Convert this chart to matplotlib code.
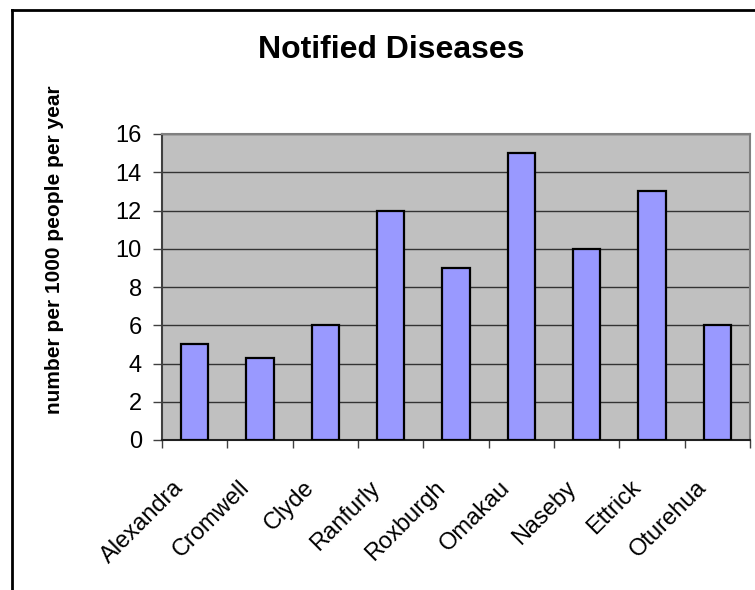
import numpy as np
import matplotlib.pyplot as plt
from matplotlib.lines import Line2D
from matplotlib.transforms import ScaledTranslation

plt.rcParams['font.family'] = ['Liberation Sans', 'DejaVu Sans']

towns = ['Alexandra', 'Cromwell', 'Clyde', 'Ranfurly', 'Roxburgh',
         'Omakau', 'Naseby', 'Ettrick', 'Oturehua']
rates = [5, 4.3, 6, 12, 9, 15, 10, 13, 6]
yticks = [0, 2, 4, 6, 8, 10, 12, 14, 16]

fig = plt.figure(figsize=(7.55, 5.9), dpi=100)
ax = fig.add_axes([162/755, 1-440/590, (750-162)/755, (440-134)/590])
ax.set_facecolor('#C0C0C0')

x = np.arange(len(towns))
ax.bar(x, rates, width=0.42, color='#9999FF', edgecolor='black',
       linewidth=1.6, zorder=3)

ax.set_xlim(-0.5, len(towns) - 0.5)
ax.set_ylim(0, 16)
ax.set_yticks(yticks)
ax.yaxis.grid(True, color='#333333', linewidth=1, zorder=1)
ax.tick_params(axis='y', labelsize=17, length=6.5, width=1, color='#404040', pad=8)

# category labels at centres, tick marks on the boundaries
ax.set_xticks(x)
ax.set_xticklabels(towns, rotation=45, ha='right', rotation_mode='anchor',
                   fontsize=17)
ax.tick_params(axis='x', which='major', length=0, pad=12)
ax.set_xticks(np.arange(len(towns) + 1) - 0.5, minor=True)
ax.tick_params(axis='x', which='minor', length=6, width=1, color='#404040')
shift = ScaledTranslation(-0.22, -0.20, fig.dpi_scale_trans)
for lab in ax.get_xticklabels():
    lab.set_transform(lab.get_transform() + shift)

ax.spines['left'].set_color('#404040')
ax.spines['bottom'].set_color('#202020')
ax.spines['top'].set_color('#808080')
ax.spines['right'].set_color('#808080')
for s in ax.spines.values():
    s.set_linewidth(1.5)

fig.text(391/755, 1-50/590, 'Notified Diseases', fontsize=23, fontweight='bold',
         ha='center', va='center')
fig.text(55/755, 1-250/590, 'number per 1000 people per year', fontsize=15,
         fontweight='bold', rotation=90, ha='center', va='center')

# outer chart border (runs off the right and bottom edges)
fig.add_artist(Line2D([12/755, 1.01], [1-10/590, 1-10/590], color='black',
                      linewidth=2, transform=fig.transFigure))
fig.add_artist(Line2D([12/755, 12/755], [1-10/590, -0.01], color='black',
                      linewidth=2, transform=fig.transFigure))

fig.savefig('out.png', dpi=100)
